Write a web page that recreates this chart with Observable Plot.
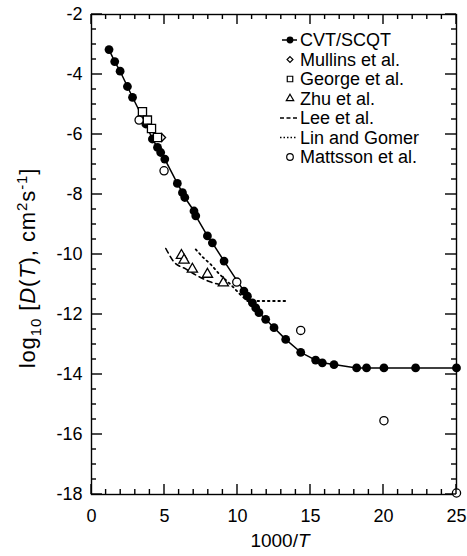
<!DOCTYPE html>
<html><head><meta charset="utf-8">
<script src="https://cdn.jsdelivr.net/npm/d3@7"></script>
<script src="https://cdn.jsdelivr.net/npm/@observablehq/plot@0.6"></script>
<style>body{margin:0;background:#fff}</style>
</head><body><div id="chart"></div>
<script>
// ---- data (1000/T, log10 D) ----
const cvtX = [1.20,1.59,1.96,2.46,2.81,3.72,4.17,4.52,4.74,5.02,5.88,6.23,6.39,7.02,7.14,7.94,8.28,9.08,10.44,10.68,11.02,11.25,11.47,11.93,12.50,13.30,14.33,15.35,15.81,16.61,18.16,18.84,20.03,22.2,25.0];
const cvtY = [-3.17,-3.57,-3.89,-4.40,-4.76,-5.65,-6.15,-6.43,-6.60,-6.82,-7.63,-7.94,-8.10,-8.55,-8.71,-9.38,-9.61,-10.22,-11.22,-11.39,-11.61,-11.78,-11.94,-12.16,-12.44,-12.83,-13.26,-13.52,-13.61,-13.67,-13.78,-13.78,-13.78,-13.78,-13.78];
const mullinsX = [4.80];
const mullinsY = [-6.10];
const georgeX = [3.49,3.83,4.11,4.52];
const georgeY = [-5.24,-5.52,-5.80,-6.10];
const zhuX = [6.16,6.34,6.91,7.94,9.03];
const zhuY = [-10.03,-10.19,-10.49,-10.66,-10.95];
const leeX = [5.09,5.65,6.45,7.25,8.12,9.08];
const leeY = [-9.80,-10.25,-10.48,-10.71,-10.91,-11.03];
const linX = [7.14,7.60,8.17,8.73,9.53,10.22,10.68,13.30];
const linY = [-9.83,-10.08,-10.33,-10.64,-11.00,-11.35,-11.55,-11.55];
const mattssonX = [3.26,4.97,9.95,14.33,20.03,25.0];
const mattssonY = [-5.52,-7.21,-10.92,-12.53,-15.54,-17.95];

const xTicks = [0,5,10,15,20,25];
const yTicks = [-2,-4,-6,-8,-10,-12,-14,-16,-18];
const xMinor = [1,2,3,4,6,7,8,9,11,12,13,14,16,17,18,19,21,22,23,24];
const yMinor = [-2.5,-3,-3.5,-4.5,-5,-5.5,-6.5,-7,-7.5,-8.5,-9,-9.5,-10.5,-11,-11.5,-12.5,-13,-13.5,-14.5,-15,-15.5,-16.5,-17,-17.5];
const legendLabels = ["CVT/SCQT","Mullins et al.","George et al.","Zhu et al.","Lee et al.","Lin and Gomer","Mattsson et al."];

// ---- layout ----
const W = 467, H = 556, mL = 91, mR = 11, mT = 14, mB = 62;
const font = "'Liberation Sans', Arial, Helvetica, sans-serif";
const rows = (xs, ys) => xs.map((x, i) => ({x, y: ys[i]}));
const cvt = rows(cvtX, cvtY), mullins = rows(mullinsX, mullinsY), george = rows(georgeX, georgeY),
      zhu = rows(zhuX, zhuY), lee = rows(leeX, leeY), lin = rows(linX, linY), mattsson = rows(mattssonX, mattssonY);
const open = {x: "x", y: "y", fill: "#fff", stroke: "#000", strokeWidth: 1.3};

const plot = Plot.plot({
  width: W, height: H, marginLeft: mL, marginRight: mR, marginTop: mT, marginBottom: mB,
  style: {fontFamily: font, fontSize: "18px", color: "#000", background: "#fff"},
  x: {domain: [0, 25]},
  y: {domain: [-18, -2]},
  marks: [
    Plot.frame({stroke: "#000", strokeWidth: 1.4}),
    Plot.axisX(xTicks, {tickSize: 0, tickPadding: 15, fontSize: 18, label: null, tickFormat: d => String(d)}),
    Plot.axisY(yTicks, {tickSize: 0, tickPadding: 9, fontSize: 18, label: null, tickFormat: d => String(d)}),
    Plot.line(lee, {x: "x", y: "y", stroke: "#000", strokeWidth: 1.6, strokeDasharray: "5,4", curve: "monotone-x"}),
    Plot.line(lin, {x: "x", y: "y", stroke: "#000", strokeWidth: 1.8, strokeDasharray: "1.6,3.6", curve: "linear"}),
    Plot.line(cvt, {x: "x", y: "y", stroke: "#000", strokeWidth: 1.5}),
    Plot.dot(cvt, {x: "x", y: "y", r: 4.4, fill: "#000", stroke: "none"}),
    Plot.dot(mullins, {...open, symbol: "diamond2", r: 3.6}),
    Plot.dot(george, {...open, symbol: "square", r: 4.6}),
    Plot.dot(zhu, {...open, symbol: "triangle", r: 3.8}),
    Plot.dot(mattsson, {...open, symbol: "circle", r: 4.1})
  ]
});
document.getElementById("chart").append(plot);

const svg = d3.select(plot);

// ---- inward ticks on all four sides, placed with Plot's own scales ----
const scX = plot.scale("x"), scY = plot.scale("y");
const edgeL = mL, edgeR = W - mR, edgeT = mT, edgeB = H - mB;
const tg = svg.append("g").attr("stroke", "#000").attr("stroke-width", 1.4).attr("fill", "none");
const addX = (vals, len) => vals.forEach(v => {
  const px = scX.apply(v);
  tg.append("line").attr("x1", px).attr("x2", px).attr("y1", edgeB).attr("y2", edgeB - len);
  tg.append("line").attr("x1", px).attr("x2", px).attr("y1", edgeT).attr("y2", edgeT + len);
});
const addY = (vals, len) => vals.forEach(v => {
  const py = scY.apply(v);
  tg.append("line").attr("x1", edgeL).attr("x2", edgeL + len).attr("y1", py).attr("y2", py);
  tg.append("line").attr("x1", edgeR).attr("x2", edgeR - len).attr("y1", py).attr("y2", py);
});
addX(xTicks, 10); addX(xMinor, 5);
addY(yTicks, 11); addY(yMinor, 5);

// ---- axis titles ----
const xl = svg.append("text").attr("x", 280).attr("y", 547).attr("text-anchor", "middle")
  .attr("font-family", font).attr("font-size", 19).attr("fill", "#000");
xl.append("tspan").text("1000/");
xl.append("tspan").attr("font-style", "italic").text("T");

const yl = svg.append("text").attr("transform", "translate(35,268) rotate(-90)").attr("text-anchor", "middle")
  .attr("font-family", font).attr("font-size", 22).attr("letter-spacing", 0.9).attr("fill", "#000");
yl.append("tspan").text("log");
yl.append("tspan").attr("font-size", 15).attr("dy", 6).text("10");
yl.append("tspan").attr("dy", -6).text(" [");
yl.append("tspan").attr("font-style", "italic").text("D");
yl.append("tspan").text("(");
yl.append("tspan").attr("font-style", "italic").text("T");
yl.append("tspan").text("), cm");
yl.append("tspan").attr("font-size", 15).attr("dy", -8).text("2");
yl.append("tspan").attr("dy", 8).text("s");
yl.append("tspan").attr("font-size", 15).attr("dy", -8).text("-1");
yl.append("tspan").attr("dy", 8).text("]");

// ---- legend ----
const lg = svg.append("g").attr("font-family", font).attr("font-size", 18).attr("fill", "#000").attr("text-anchor", "start");
const lx = 290, ly0 = 40, ldy = 19.5;
const sym = (type, size) => d3.symbol(type, size)();
legendLabels.forEach((lab, i) => {
  const y = ly0 + i * ldy;
  const g = lg.append("g");
  if (i === 0) {
    g.append("line").attr("x1", lx - 8).attr("x2", lx + 7).attr("y1", y).attr("y2", y).attr("stroke", "#000").attr("stroke-width", 1.5);
    g.append("circle").attr("cx", lx).attr("cy", y).attr("r", 3.4).attr("fill", "#000");
  } else if (i === 1) {
    g.append("path").attr("d", sym(d3.symbolDiamond2, 22)).attr("transform", `translate(${lx},${y})`).attr("fill", "#fff").attr("stroke", "#000").attr("stroke-width", 1.2);
  } else if (i === 2) {
    g.append("path").attr("d", sym(d3.symbolSquare, 30)).attr("transform", `translate(${lx},${y})`).attr("fill", "#fff").attr("stroke", "#000").attr("stroke-width", 1.2);
  } else if (i === 3) {
    g.append("path").attr("d", sym(d3.symbolTriangle, 24)).attr("transform", `translate(${lx},${y})`).attr("fill", "#fff").attr("stroke", "#000").attr("stroke-width", 1.2);
  } else if (i === 4) {
    g.append("line").attr("x1", lx - 10).attr("x2", lx + 7).attr("y1", y).attr("y2", y).attr("stroke", "#000").attr("stroke-width", 1.5).attr("stroke-dasharray", "4,2.5");
  } else if (i === 5) {
    g.append("line").attr("x1", lx - 10).attr("x2", lx + 7).attr("y1", y).attr("y2", y).attr("stroke", "#000").attr("stroke-width", 1.5).attr("stroke-dasharray", "1.5,2");
  } else {
    g.append("circle").attr("cx", lx).attr("cy", y).attr("r", 3.3).attr("fill", "#fff").attr("stroke", "#000").attr("stroke-width", 1.2);
  }
  g.append("text").attr("x", lx + 10).attr("y", y).attr("dy", "0.35em").text(lab);
});
</script>
</body></html>
